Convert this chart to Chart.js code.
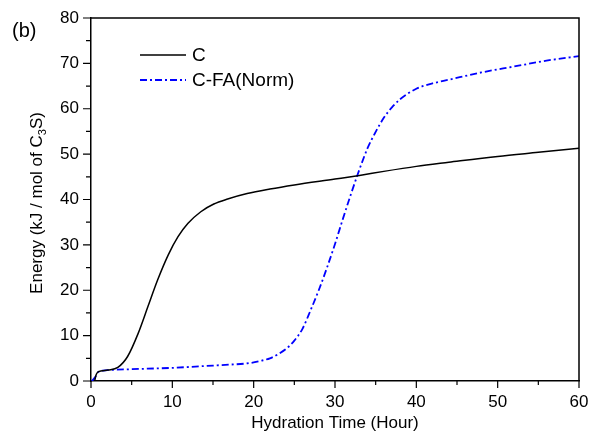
<!DOCTYPE html>
<html>
<head>
<meta charset="utf-8">
<script src="https://cdn.jsdelivr.net/npm/chart.js@4.4.1/dist/chart.umd.min.js"></script>
<style>
  html, body { margin: 0; padding: 0; background: #fff; }
  #wrap { width: 592px; height: 435px; }
</style>
</head>
<body>
<div id="wrap"><canvas id="heatChart" width="592" height="435"></canvas></div>
<script>
const seriesNames = ['C', 'C-FA(Norm)'];

// C (plain cement paste)
const cTime = [0.45, 0.6, 0.8, 1.2, 2.1, 3.3, 4.5, 5.8, 7.0, 8.2, 9.5, 10.7, 11.9, 13.5, 15.1, 16.8, 19.2, 22, 25, 30, 33, 36, 40, 44, 50, 55, 60];
const cEnergy = [0, 1.2, 1.9, 2.2, 2.4, 3.0, 5.4, 10.5, 16.4, 22.3, 27.8, 31.8, 34.7, 37.3, 39.0, 40.1, 41.3, 42.3, 43.2, 44.5, 45.3, 46.2, 47.3, 48.2, 49.5, 50.4, 51.3];

// C-FA normalised
const faTime = [0.1, 0.5, 0.9, 1.5, 2.1, 5, 10, 15, 17, 19.5, 21, 22, 23, 24, 25, 26, 27, 28, 29, 30, 31, 32, 33, 34, 35, 36, 37, 38, 39, 40, 41, 42, 44, 48, 52, 56, 60];
const faEnergy = [0, 0.8, 2.0, 2.3, 2.4, 2.6, 2.9, 3.4, 3.6, 3.95, 4.5, 5.0, 5.9, 7.1, 8.9, 11.5, 15.6, 20.0, 24.9, 30.2, 35.9, 41.4, 46.6, 51.3, 54.9, 58.0, 60.3, 62.1, 63.4, 64.4, 65.1, 65.6, 66.4, 68.0, 69.3, 70.6, 71.6];

const xTicks = [0, 10, 20, 30, 40, 50, 60];
const yTicks = [0, 10, 20, 30, 40, 50, 60, 70, 80];

const FONT = "'Liberation Sans', Arial, sans-serif";

function toPoints(xs, ys) {
  return xs.map((x, i) => ({ x: x, y: ys[i] }));
}

const decor = {
  id: 'decor',
  afterDraw(chart) {
    const ctx = chart.ctx;
    const a = chart.chartArea;
    const xs = chart.scales.x;
    const ys = chart.scales.y;
    ctx.save();
    ctx.strokeStyle = '#000';
    ctx.lineWidth = 1.5;

    // frame top + right
    ctx.beginPath();
    ctx.moveTo(a.left, a.top);
    ctx.lineTo(a.right, a.top);
    ctx.lineTo(a.right, a.bottom);
    ctx.stroke();

    // major / minor ticks, outward
    ctx.lineWidth = 1.2;
    ctx.beginPath();
    for (let v = 0; v <= 60; v += 5) {
      const px = xs.getPixelForValue(v);
      const len = v % 10 === 0 ? 7 : 4;
      ctx.moveTo(px, a.bottom);
      ctx.lineTo(px, a.bottom + len);
    }
    for (let v = 0; v <= 80; v += 5) {
      const py = ys.getPixelForValue(v);
      const len = v % 10 === 0 ? 8 : 5;
      ctx.moveTo(a.left, py);
      ctx.lineTo(a.left - len, py);
    }
    ctx.stroke();

    // panel label
    ctx.fillStyle = '#000';
    ctx.font = '20px ' + FONT;
    ctx.textAlign = 'left';
    ctx.textBaseline = 'middle';
    ctx.fillText('(b)', 12, 31);

    // y axis title with subscript
    ctx.save();
    ctx.translate(36, 203);
    ctx.rotate(-Math.PI / 2);
    const big = '17px ' + FONT;
    const small = '11px ' + FONT;
    const p1 = 'Energy (kJ / mol of C', p2 = '3', p3 = 'S)';
    ctx.font = big;
    const w1 = ctx.measureText(p1).width, w3 = ctx.measureText(p3).width;
    ctx.font = small;
    const w2 = ctx.measureText(p2).width;
    let x0 = -(w1 + w2 + w3) / 2;
    ctx.textAlign = 'left';
    ctx.textBaseline = 'alphabetic';
    ctx.font = big;
    ctx.fillText(p1, x0, 6);
    ctx.font = small;
    ctx.fillText(p2, x0 + w1, 10);
    ctx.font = big;
    ctx.fillText(p3, x0 + w1 + w2, 6);
    ctx.restore();

    // legend
    const rows = [55, 80];
    chart.data.datasets.forEach((ds, i) => {
      ctx.strokeStyle = ds.borderColor;
      ctx.lineWidth = ds.borderWidth;
      ctx.setLineDash(ds.borderDash || []);
      ctx.beginPath();
      ctx.moveTo(140, rows[i]);
      ctx.lineTo(186, rows[i]);
      ctx.stroke();
      ctx.setLineDash([]);
      ctx.fillStyle = '#000';
      ctx.font = '19px ' + FONT;
      ctx.textBaseline = 'middle';
      ctx.fillText(ds.label, 192, rows[i] + 1);
    });
    ctx.restore();
  }
};

new Chart(document.getElementById('heatChart'), {
  type: 'line',
  data: {
    datasets: [
      {
        label: seriesNames[0],
        data: toPoints(cTime, cEnergy),
        borderColor: '#000000',
        borderWidth: 1.5,
        pointRadius: 0,
        cubicInterpolationMode: 'monotone',
        fill: false
      },
      {
        label: seriesNames[1],
        data: toPoints(faTime, faEnergy),
        borderColor: '#0000ff',
        borderWidth: 1.8,
        borderDash: [7, 3, 2, 3],
        pointRadius: 0,
        cubicInterpolationMode: 'monotone',
        fill: false
      }
    ]
  },
  options: {
    responsive: false,
    animation: false,
    layout: { padding: { top: 18, right: 13, left: 0, bottom: 0 } },
    plugins: { legend: { display: false }, tooltip: { enabled: false } },
    scales: {
      x: {
        type: 'linear',
        min: 0, max: 60,
        afterFit(s) { s.height = 54; s.paddingLeft = 0; s.paddingRight = 0; },
        afterBuildTicks(s) { s.ticks = xTicks.map(v => ({ value: v })); },
        grid: { display: false, drawTicks: false },
        border: { display: true, color: '#000', width: 1.5 },
        ticks: { color: '#000', font: { family: FONT, size: 17 }, padding: 11, maxRotation: 0 },
        title: { display: true, text: 'Hydration Time (Hour)', color: '#000', font: { family: FONT, size: 17 }, padding: { top: 0, bottom: 1 } }
      },
      y: {
        type: 'linear',
        min: 0, max: 80,
        afterFit(s) { s.width = 91; s.paddingTop = 0; s.paddingBottom = 0; },
        afterBuildTicks(s) { s.ticks = yTicks.map(v => ({ value: v })); },
        grid: { display: false, drawTicks: false },
        border: { display: true, color: '#000', width: 1.5 },
        ticks: { color: '#000', font: { family: FONT, size: 17 }, padding: 12 }
      }
    }
  },
  plugins: [decor]
});
</script>
</body>
</html>
